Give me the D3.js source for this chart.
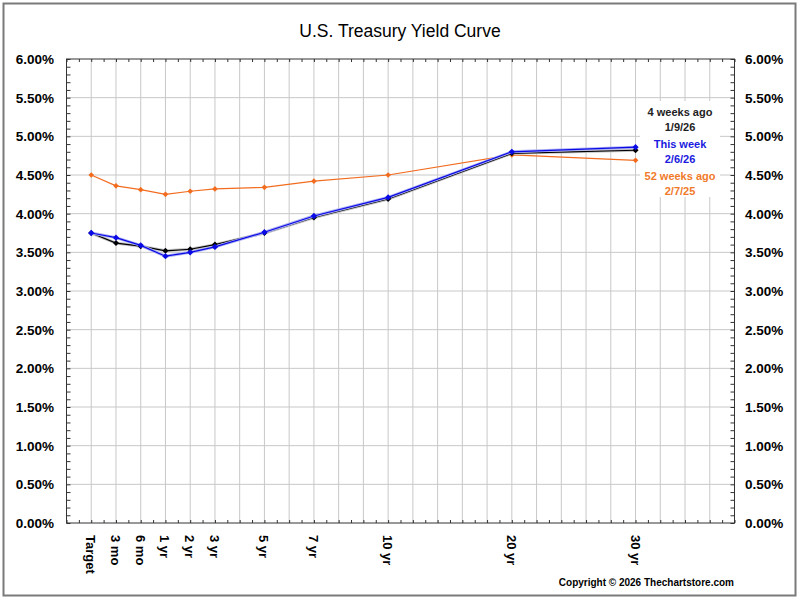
<!DOCTYPE html>
<html>
<head>
<meta charset="utf-8">
<script src="https://cdn.jsdelivr.net/npm/d3@7"></script>
<style>
  body { margin: 0; background: #fff; }
  text { font-family: Arial, "Liberation Sans", sans-serif; }
</style>
</head>
<body>
<div id="chart"></div>
<script>
const maturities = ["Target", "3 mo", "6 mo", "1 yr", "2 yr", "3 yr", "5 yr", "7 yr", "10 yr", "20 yr", "30 yr"];
const positions = [0, 1, 2, 3, 4, 5, 7, 9, 12, 17, 22];
const yieldsThisWeek = [3.75, 3.69, 3.59, 3.45, 3.50, 3.57, 3.76, 3.97, 4.21, 4.80, 4.86];
const yields4WeeksAgo = [3.75, 3.62, 3.58, 3.52, 3.54, 3.60, 3.75, 3.95, 4.19, 4.78, 4.82];
const yields52WeeksAgo = [4.50, 4.36, 4.31, 4.25, 4.29, 4.32, 4.34, 4.42, 4.50, 4.76, 4.69];
const yTicks = [0, 0.5, 1, 1.5, 2, 2.5, 3, 3.5, 4, 4.5, 5, 5.5, 6];

const width = 800, height = 600;
const plot = { left: 66.5, right: 734.5, top: 59, bottom: 523 };

const svg = d3.select("#chart").append("svg")
  .attr("width", width).attr("height", height);

svg.append("rect")
  .attr("x", 3.5).attr("y", 3.5).attr("width", 792).attr("height", 592)
  .attr("fill", "#fff").attr("stroke", "#7a7a7a").attr("stroke-width", 2);

svg.append("text")
  .attr("x", 400).attr("y", 37)
  .attr("text-anchor", "middle")
  .attr("font-size", 17.5)
  .text("U.S. Treasury Yield Curve");

const x = d3.scaleLinear().domain([-1, 26]).range([plot.left, plot.right]);
const y = d3.scaleLinear().domain([0, 6]).range([plot.bottom, plot.top]);

// grid
const grid = svg.append("g").attr("stroke", "#c8c8c8").attr("stroke-width", 1);
grid.selectAll(".vg").data(d3.range(0, 26)).join("line")
  .attr("x1", (d) => x(d)).attr("x2", (d) => x(d))
  .attr("y1", plot.top).attr("y2", plot.bottom);
grid.selectAll(".hg").data(yTicks.slice(1, -1)).join("line")
  .attr("x1", plot.left).attr("x2", plot.right)
  .attr("y1", (d) => y(d)).attr("y2", (d) => y(d));

// axes with inward ticks
const minorY = d3.range(0, 61).map((d) => d / 10);
const minorX = d3.range(-1, 26.01, 0.5);

svg.append("g").attr("transform", `translate(${plot.left},0)`)
  .call(d3.axisRight(y).tickValues(minorY).tickSize(4).tickFormat(""))
  .call((g) => g.select(".domain").remove())
  .selectAll("line").attr("stroke", "#333");
svg.append("g").attr("transform", `translate(${plot.right},0)`)
  .call(d3.axisLeft(y).tickValues(minorY).tickSize(4).tickFormat(""))
  .call((g) => g.select(".domain").remove())
  .selectAll("line").attr("stroke", "#333");
svg.append("g").attr("transform", `translate(0,${plot.top})`)
  .call(d3.axisBottom(x).tickValues(minorX).tickSize(3).tickFormat(""))
  .call((g) => g.select(".domain").remove())
  .selectAll("line").attr("stroke", "#333");
svg.append("g").attr("transform", `translate(0,${plot.bottom})`)
  .call(d3.axisTop(x).tickValues(minorX).tickSize(3).tickFormat(""))
  .call((g) => g.select(".domain").remove())
  .selectAll("line").attr("stroke", "#333");

svg.append("rect")
  .attr("x", plot.left).attr("y", plot.top)
  .attr("width", plot.right - plot.left).attr("height", plot.bottom - plot.top)
  .attr("fill", "none").attr("stroke", "#333").attr("stroke-width", 1);

// y labels both sides
const fmt = (d) => d.toFixed(2) + "%";
svg.append("g").selectAll("text").data(yTicks).join("text")
  .attr("x", 54).attr("y", (d) => y(d) + 5)
  .attr("text-anchor", "end").attr("font-size", 13.5).attr("font-weight", "bold")
  .text(fmt);
svg.append("g").selectAll("text").data(yTicks).join("text")
  .attr("x", 745).attr("y", (d) => y(d) + 5)
  .attr("text-anchor", "start").attr("font-size", 13.5).attr("font-weight", "bold")
  .text(fmt);

// x labels rotated
svg.append("g").selectAll("text").data(maturities).join("text")
  .attr("transform", (d, i) => `translate(${x(positions[i]) - 5},${plot.bottom + 12}) rotate(90)`)
  .attr("text-anchor", "start").attr("font-size", 13).attr("font-weight", "bold")
  .text((d) => d);

// series
const series = [
  { name: "52 weeks ago", values: yields52WeeksAgo, color: "#f26c1f", halo: null, size: 16 },
  { name: "4 weeks ago", values: yields4WeeksAgo, color: "#000000", halo: "#c4c4c4", size: 18 },
  { name: "This week", values: yieldsThisWeek, color: "#0a0ae6", halo: "#aeb0f2", size: 20 },
];

const line = d3.line().x((d) => x(d.p)).y((d) => y(d.v));

series.forEach((s) => {
  const pts = s.values.map((v, i) => ({ p: positions[i], v }));
  const marker = d3.symbol().type(d3.symbolSquare).size(s.size);
  if (s.halo) {
    svg.append("path").datum(pts).attr("d", line)
      .attr("fill", "none").attr("stroke", s.halo).attr("stroke-width", 3);
  }
  svg.append("path").datum(pts).attr("d", line)
    .attr("fill", "none").attr("stroke", s.color).attr("stroke-width", 1.2);
  svg.append("g").selectAll("path").data(pts).join("path")
    .attr("transform", (d) => `translate(${x(d.p)},${y(d.v)}) rotate(45)`)
    .attr("d", marker).attr("fill", s.color);
});

// legend
const legendItems = [
  { lines: ["4 weeks ago", "1/9/26"], color: "#222" },
  { lines: ["This week", "2/6/26"], color: "#1a1ae0" },
  { lines: ["52 weeks ago", "2/7/25"], color: "#f07a2a" },
];
const legend = svg.append("g");
legend.append("rect")
  .attr("x", 640).attr("y", 101).attr("width", 80).attr("height", 96).attr("fill", "#fff");
legendItems.forEach((item, i) => {
  item.lines.forEach((t, j) => {
    legend.append("text")
      .attr("x", 680).attr("y", 116 + i * 32 + j * 15)
      .attr("text-anchor", "middle").attr("font-size", 11).attr("font-weight", "bold")
      .attr("fill", item.color)
      .text(t);
  });
});

svg.append("text")
  .attr("x", 734).attr("y", 586)
  .attr("text-anchor", "end").attr("font-size", 10).attr("font-weight", "bold")
  .text("Copyright © 2026 Thechartstore.com");
</script>
</body>
</html>
